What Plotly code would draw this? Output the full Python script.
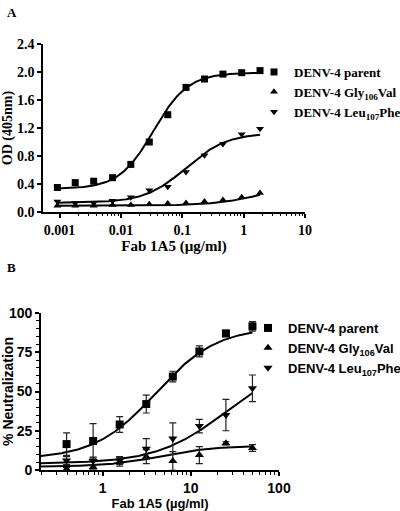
import numpy as np
import plotly.graph_objects as go

# ---------------- Panel A data (ELISA, OD 405nm) ----------------
conc_a = [0.00092, 0.0018, 0.0036, 0.0073, 0.0145, 0.029, 0.058, 0.115, 0.23, 0.46, 0.93, 1.85]
od_parent = [0.35, 0.42, 0.44, 0.49, 0.68, 1.00, 1.39, 1.78, 1.90, 1.97, 1.99, 2.02]
od_gly = [0.09, 0.09, 0.09, 0.10, 0.10, 0.11, 0.12, 0.13, 0.15, 0.17, 0.21, 0.27]
od_leu = [0.15, 0.13, 0.13, 0.16, 0.21, 0.31, 0.36, 0.57, 0.81, 0.97, 1.11, 1.19]
# 4PL fit parameters: bottom, top, EC50, hill
fit_a_parent = [0.33, 1.99, 0.034, 1.55]
fit_a_gly = [0.09, 0.50, 3.0, 1.0]
fit_a_leu = [0.13, 1.13, 0.115, 1.3]
ticks_a_x = [0.001, 0.01, 0.1, 1, 10]
ticklabels_a_x = ["0.001", "0.01", "0.1", "1", "10"]
ticks_a_y = [0.0, 0.4, 0.8, 1.2, 1.6, 2.0, 2.4]
ticklabels_a_y = ["0.0", "0.4", "0.8", "1.2", "1.6", "2.0", "2.4"]

# ---------------- Panel B data (% neutralization) ----------------
conc_b = [0.39, 0.78, 1.56, 3.125, 6.25, 12.5, 25, 50]
neut_parent = [16.5, 18.5, 29, 42, 59.5, 75.5, 87, 91.5]
err_parent = [7.2, 11.0, 5.0, 5.7, 3.4, 3.5, 2.0, 3.0]
neut_gly = [0.5, 1.7, 5.3, 8.5, 5.7, 9.5, 17, 14]
err_gly = [1.0, 1.0, 2.8, 4.5, 6.0, 5.4, 1.0, 2.2]
neut_leu = [6, 5.7, 6, 13.5, 20, 28, 35, 52]
err_leu = [2.5, 2.5, 2.5, 6.5, 10, 4.3, 10, 8.5]
fit_b_parent = [7, 91, 4.0, 1.25]
fit_b_gly = [2, 15.5, 4.5, 1.4]
fit_b_leu = [4, 70, 25, 1.1]
ticks_b_x = [1, 10, 100]
ticklabels_b_x = ["1", "10", "100"]
ticks_b_y = [0, 25, 50, 75, 100]
ticklabels_b_y = ["0", "25", "50", "75", "100"]

series_names = ["DENV-4 parent", "DENV-4 Gly<sub>106</sub>Val", "DENV-4 Leu<sub>107</sub>Phe"]
symbols = ["square", "triangle-up", "triangle-down"]


def four_pl(x, p):
    bottom, top, ec50, hill = p
    return bottom + (top - bottom) / (1 + (ec50 / x) ** hill)


def minor_vals(lo, hi):
    vals = []
    for d in range(lo, hi):
        for m in range(2, 10):
            vals.append(m * 10.0 ** d)
    return vals


SERIF = "Liberation Serif"
SANS = "Liberation Sans"

fig = go.Figure()

# Panel A
xa_curve = np.logspace(np.log10(conc_a[0]), np.log10(conc_a[-1]), 300)
for vals, fit, sym, name in zip([od_parent, od_gly, od_leu],
                                [fit_a_parent, fit_a_gly, fit_a_leu], symbols, series_names):
    fig.add_trace(go.Scatter(x=xa_curve, y=four_pl(xa_curve, fit), mode="lines",
                             line=dict(color="black", width=2), showlegend=False,
                             xaxis="x", yaxis="y", hoverinfo="skip"))
    fig.add_trace(go.Scatter(x=conc_a, y=vals, mode="markers", name=name,
                             marker=dict(symbol=sym, size=7, color="black"),
                             cliponaxis=False, xaxis="x", yaxis="y", legend="legend"))

# Panel B
xb_curve = np.logspace(np.log10(0.2), np.log10(conc_b[-1]), 300)
for vals, errs, fit, sym, name in zip([neut_parent, neut_gly, neut_leu],
                                      [err_parent, err_gly, err_leu],
                                      [fit_b_parent, fit_b_gly, fit_b_leu], symbols, series_names):
    fig.add_trace(go.Scatter(x=xb_curve, y=four_pl(xb_curve, fit), mode="lines",
                             line=dict(color="black", width=2), showlegend=False,
                             xaxis="x2", yaxis="y2", hoverinfo="skip"))
    fig.add_trace(go.Scatter(x=conc_b, y=vals, mode="markers", name=name,
                             error_y=dict(type="data", array=errs, width=3.5, thickness=1.2, color="#222"),
                             marker=dict(symbol=sym, size=8, color="black"),
                             cliponaxis=False, xaxis="x2", yaxis="y2", legend="legend2"))

axis_common = dict(showline=True, linecolor="black", linewidth=1.6, ticks="outside",
                   ticklen=4, tickwidth=1.5, tickcolor="black", showgrid=False, zeroline=False)

fig.update_layout(
    width=400, height=511, margin=dict(l=0, r=0, t=0, b=0, autoexpand=False),
    paper_bgcolor="white", plot_bgcolor="white",
    xaxis=dict(domain=[43 / 400, 305 / 400], type="log", range=[-3.27, 1.0], anchor="y",
               tickmode="array", tickvals=ticks_a_x, ticktext=ticklabels_a_x,
               tickfont=dict(family=SERIF, size=14, color="black", weight="bold"),
               minor=dict(ticks="outside", ticklen=2.5, tickwidth=1, tickcolor="black",
                          tickmode="array", tickvals=minor_vals(-3, 1)),
               title=dict(text="<b>Fab 1A5 (µg/ml)</b>", font=dict(family=SERIF, size=15, color="black"),
                          standoff=3),
               **axis_common),
    yaxis=dict(domain=[1 - 212 / 511, 1 - 44 / 511], range=[0, 2.4], anchor="x",
               tickmode="array", tickvals=ticks_a_y, ticktext=ticklabels_a_y,
               tickfont=dict(family=SERIF, size=14, color="black", weight="bold"),
               title=dict(text="<b>OD (405nm)</b>", font=dict(family=SERIF, size=14, color="black"),
                          standoff=4),
               **axis_common),
    xaxis2=dict(domain=[41 / 400, 279 / 400], type="log", range=[np.log10(0.2), 2.0], anchor="y2",
                tickmode="array", tickvals=ticks_b_x, ticktext=ticklabels_b_x,
                tickfont=dict(family=SANS, size=14, color="black", weight="bold"),
                minor=dict(ticks="outside", ticklen=3, tickwidth=1, tickcolor="black",
                           tickmode="array", tickvals=minor_vals(-1, 2)),
                title=dict(text="<b>Fab 1A5 (µg/ml)</b>", font=dict(family=SANS, size=13, color="black"),
                           standoff=3),
                **axis_common),
    yaxis2=dict(domain=[1 - 470 / 511, 1 - 313 / 511], range=[0, 100], anchor="x2",
                tickmode="array", tickvals=ticks_b_y, ticktext=ticklabels_b_y,
                tickfont=dict(family=SANS, size=14, color="black", weight="bold"),
                minor=dict(ticks="outside", ticklen=3, tickwidth=1, tickcolor="black", dtick=5),
                title=dict(text="<b>% Neutralization</b>", font=dict(family=SANS, size=14, color="black"),
                           standoff=5),
                **axis_common),
    legend=dict(x=254 / 400, y=1 - 57 / 511, xanchor="left", yanchor="top",
                font=dict(family=SERIF, size=13, color="black", weight="bold"),
                bgcolor="rgba(0,0,0,0)", itemwidth=30),
    legend2=dict(x=248 / 400, y=1 - 313 / 511, xanchor="left", yanchor="top",
                 font=dict(family=SANS, size=13, color="black", weight="bold"),
                 bgcolor="rgba(0,0,0,0)", itemwidth=30),
    annotations=[
        dict(text="<b>A</b>", x=5 / 400, y=1 - 12 / 511, xref="paper", yref="paper",
             xanchor="left", yanchor="middle", showarrow=False,
             font=dict(family=SERIF, size=13, color="black")),
        dict(text="<b>B</b>", x=5 / 400, y=1 - 267 / 511, xref="paper", yref="paper",
             xanchor="left", yanchor="middle", showarrow=False,
             font=dict(family=SERIF, size=13, color="black")),
    ],
)

fig.write_html("out.html", config={"displayModeBar": False},
               post_script="document.body.style.margin='0px';")
